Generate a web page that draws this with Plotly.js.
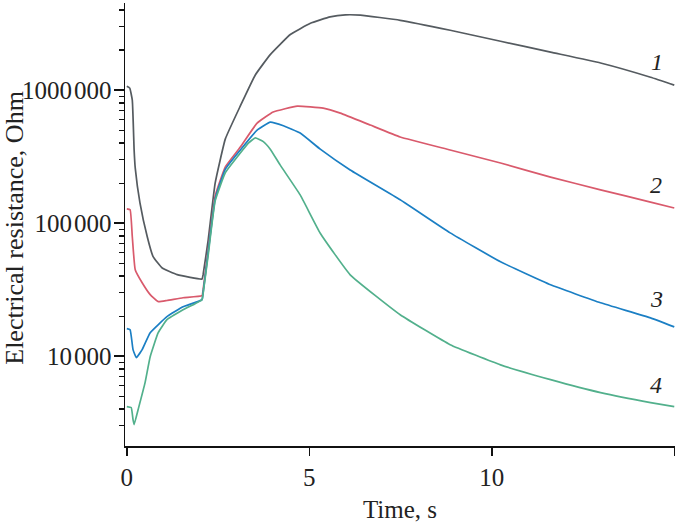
<!DOCTYPE html>
<html>
<head>
<meta charset="utf-8">
<script src="https://cdn.plot.ly/plotly-3.0.1.min.js"></script>
<style>html,body{margin:0;padding:0;background:#fff;}#chart{width:685px;height:524px;}</style>
</head>
<body>
<div id="chart"></div>
<script>
// Time, s
const t1 = [0, 0.08, 0.15, 0.2, 0.23, 0.36, 0.56, 0.72, 0.97, 1.38, 2.06, 2.09, 2.23, 2.42, 2.70, 3.11, 3.52, 3.93, 4.48, 5.03, 5.57, 5.99, 6.4, 7.49, 8.86, 10.24, 11.61, 12.98, 14.35, 15];
const r1 = [1.07e6, 1.035e6, 8.4e5, 3.55e5, 2.6e5, 1.42e5, 7.9e4, 5.6e4, 4.6e4, 4.1e4, 3.8e4, 4.1e4, 7.5e4, 2.0e5, 4.3e5, 7.6e5, 1.30e6, 1.85e6, 2.62e6, 3.18e6, 3.55e6, 3.68e6, 3.66e6, 3.35e6, 2.82e6, 2.33e6, 1.93e6, 1.60e6, 1.25e6, 1.09e6];

const t2 = [0, 0.09, 0.15, 0.23, 0.42, 0.64, 0.86, 1.1, 1.54, 2.06, 2.09, 2.23, 2.42, 2.70, 3.11, 3.57, 4.01, 4.67, 5.38, 5.85, 6.67, 7.49, 8.86, 10.24, 11.61, 12.98, 14.35, 15];
const r2 = [1.28e5, 1.26e5, 7.9e4, 4.46e4, 3.56e4, 2.9e4, 2.57e4, 2.62e4, 2.75e4, 2.85e4, 3.15e4, 6.3e4, 1.6e5, 2.65e5, 3.73e5, 5.65e5, 6.84e5, 7.59e5, 7.33e5, 6.72e5, 5.46e5, 4.44e5, 3.55e5, 2.83e5, 2.22e5, 1.78e5, 1.44e5, 1.30e5];

const t3 = [0, 0.09, 0.17, 0.26, 0.42, 0.64, 1.1, 1.54, 2.06, 2.09, 2.23, 2.42, 2.70, 3.11, 3.57, 3.93, 4.29, 4.75, 5.30, 6.12, 7.49, 8.86, 10.24, 11.61, 12.98, 14.35, 15];
const r3 = [1.61e4, 1.58e4, 1.12e4, 9.75e3, 1.12e4, 1.5e4, 1.98e4, 2.35e4, 2.66e4, 3.0e4, 6.08e4, 1.52e5, 2.55e5, 3.55e5, 5.01e5, 5.75e5, 5.4e5, 4.76e5, 3.6e5, 2.51e5, 1.50e5, 8.45e4, 5.12e4, 3.44e4, 2.52e4, 1.94e4, 1.66e4];

const t4 = [0, 0.12, 0.17, 0.2, 0.31, 0.5, 0.64, 0.86, 1.1, 1.54, 2.06, 2.09, 2.23, 2.42, 2.70, 3.11, 3.33, 3.52, 3.74, 3.93, 4.2, 4.75, 5.30, 6.12, 7.49, 8.86, 10.24, 11.61, 12.98, 14.35, 15];
const r4 = [4.18e3, 4.11e3, 3.33e3, 3.06e3, 3.97e3, 6.33e3, 9.9e3, 1.5e4, 1.88e4, 2.23e4, 2.66e4, 2.95e4, 5.78e4, 1.47e5, 2.4e5, 3.37e5, 4.0e5, 4.37e5, 4.1e5, 3.6e5, 2.74e5, 1.63e5, 8.4e4, 4.09e4, 2.05e4, 1.22e4, 8.6e3, 6.66e3, 5.32e3, 4.48e3, 4.18e3];

const curveNames = ['1', '2', '3', '4'];
const labelT = [14.53, 14.5, 14.5, 14.5];
const labelR = [1.62e6, 1.93e5, 2.7e4, 6.1e3];

const xTicks = [0, 5, 10, 15];
const yTicks = [1e4, 1e5, 1e6];
const yTickText = ['10\u200A000', '100\u200A000', '1000\u200A000'];
const yMinor = [3e3, 4e3, 5e3, 6e3, 7e3, 8e3, 9e3, 2e4, 3e4, 4e4, 5e4, 6e4, 7e4, 8e4, 9e4, 2e5, 3e5, 4e5, 5e5, 6e5, 7e5, 8e5, 9e5, 2e6, 3e6, 4e6];

const colors = ['#555b60', '#d95a6c', '#1b7fc4', '#52b08c'];
const ts = [t1, t2, t3, t4];
const rs = [r1, r2, r3, r4];

const traces = ts.map((t, i) => ({
  x: t, y: rs[i], type: 'scatter', mode: 'lines',
  line: {color: colors[i], width: 1.7, shape: 'spline', smoothing: 0.35},
  name: curveNames[i], showlegend: false, hoverinfo: 'skip'
}));

const yRange = [3.3246, 6.655];
const serif = 'Liberation Serif, Times New Roman, serif';
const txt = '#222';

const layout = {
  width: 685, height: 524,
  margin: {l: 125, r: 10, t: 3, b: 77.5},
  paper_bgcolor: '#fff', plot_bgcolor: '#fff',
  showlegend: false,
  font: {family: serif, size: 25, color: txt},
  xaxis: {
    range: [-0.05, 15.02], tickvals: xTicks, ticktext: xTicks.map(String),
    ticks: 'outside', ticklen: 8, tickwidth: 1.5, tickcolor: '#111',
    showline: true, linecolor: '#111', linewidth: 1.5, showgrid: false, zeroline: false,
    tickfont: {family: serif, size: 25, color: txt},
    title: {text: 'Time, s', font: {family: serif, size: 25, color: txt}, standoff: 11}
  },
  yaxis: {
    type: 'log', range: yRange, tickvals: yTicks, ticktext: yTickText,
    ticks: 'outside', ticklen: 10, tickwidth: 1.5, tickcolor: '#111',
    showline: true, linecolor: '#111', linewidth: 1.5, showgrid: false, zeroline: false,
    tickfont: {family: serif, size: 25, color: txt},
    ticklabelstandoff: -3
  },
  yaxis2: {
    type: 'log', range: yRange, overlaying: 'y', side: 'left', anchor: 'x',
    tickvals: yMinor, showticklabels: false,
    ticks: 'outside', ticklen: 5, tickwidth: 1.2, tickcolor: '#111',
    showline: false, showgrid: false, zeroline: false
  },
  annotations: curveNames.map((n, i) => ({
    x: labelT[i], y: Math.log10(labelR[i]), xref: 'x', yref: 'y',
    text: '<i>' + n + '</i>', showarrow: false,
    font: {family: serif, size: 24, color: txt}
  })).concat([{
    text: 'Electrical resistance, Ohm', textangle: -90, showarrow: false,
    xref: 'paper', yref: 'paper', x: (15 - 125) / 550, y: (446.5 - 228) / 443.5,
    xanchor: 'center', yanchor: 'middle',
    font: {family: serif, size: 26, color: txt}
  }])
};

const traceMinor = {x: [0], y: [1e4], type: 'scatter', mode: 'lines', yaxis: 'y2', showlegend: false, hoverinfo: 'skip', line: {width: 0}, opacity: 0};

Plotly.newPlot('chart', traces.concat([traceMinor]), layout, {staticPlot: true, displayModeBar: false});
</script>
</body>
</html>
